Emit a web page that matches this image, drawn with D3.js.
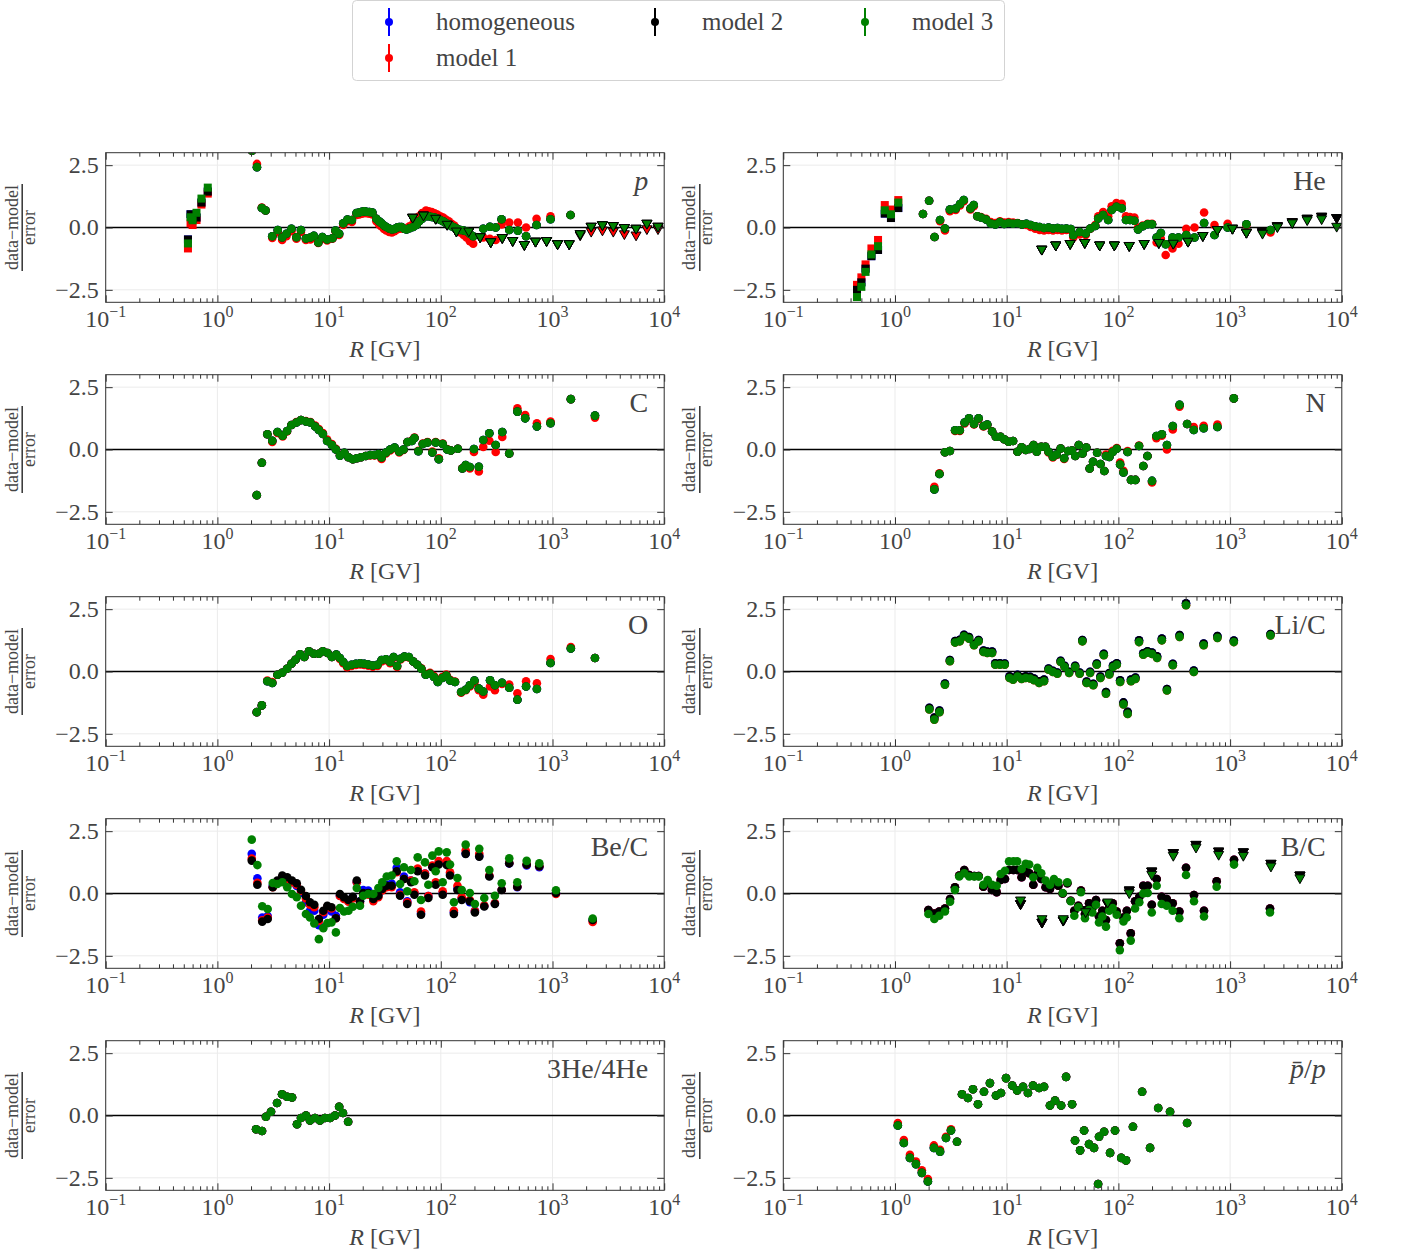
<!DOCTYPE html>
<html>
<head>
<meta charset="utf-8">
<script src="https://cdn.jsdelivr.net/npm/d3@7"></script>
<style>
body{margin:0;background:#fff}
text{font-family:"Liberation Serif","DejaVu Serif",serif;fill:#444}
</style>
</head>
<body>
<svg id="fig" width="1401" height="1254"></svg>
<script>
// ---- p ----
var pSqR  = [0.545, 0.575, 0.60, 0.65, 0.72, 0.82];
var pSqM3 = [-0.64, 0.41, 0.29, 0.59, 1.16, 1.60];
var pSqM2 = [-0.48, 0.53, 0.35, 0.40, 1.00, 1.44];
var pSqM1 = [-0.84, 0.17, 0.10, 0.30, 0.92, 1.36];
var pCiR  = [2.04,2.26,2.5,2.7,3.1,3.47,3.8,4.15,4.6,5.1,5.6,6.2,6.8,7.3,8.0,8.7,9.6,10.7,11.4,12.3,13.4,14.6,16.0,17.6,18.6,19.7,20.6,21.5,22.9,24.4,26.5,28.0,29.3,31.0,32.5,34.5,36.5,38.5,40.6,42.5,44.5,47.0,49.3,52.5,56.5,60.5,64,68,73.7,78,83,88,93,99,105,111,118,125,132,140,150,160,170,182,195,240,275,310,350,410,490,580,720,960,1450];
var pCiM3 = [3.08,2.42,0.78,0.68,-0.35,-0.10,-0.40,-0.25,-0.05,-0.39,-0.10,-0.44,-0.40,-0.33,-0.60,-0.38,-0.48,-0.43,-0.12,-0.25,0.17,0.32,0.30,0.58,0.60,0.63,0.65,0.63,0.62,0.60,0.35,0.25,0.18,0.08,0.02,-0.04,-0.08,-0.06,0.00,0.02,0.02,-0.05,-0.08,-0.03,0.02,0.10,0.25,0.35,0.45,0.45,0.42,0.40,0.35,0.30,0.25,0.18,0.12,0.05,0.00,-0.05,-0.10,-0.12,-0.15,-0.25,-0.35,-0.05,0.03,0.00,0.33,-0.10,-0.13,-0.35,0.10,0.33,0.50];
var pCiM1 = [3.08,2.55,0.80,0.68,-0.42,-0.20,-0.50,-0.35,-0.15,-0.45,-0.18,-0.50,-0.48,-0.40,-0.62,-0.45,-0.52,-0.45,-0.15,-0.30,0.10,0.25,0.22,0.50,0.52,0.55,0.58,0.57,0.55,0.52,0.25,0.12,0.05,-0.06,-0.12,-0.18,-0.20,-0.15,-0.08,-0.05,-0.04,-0.05,-0.05,0.05,0.15,0.30,0.45,0.58,0.68,0.65,0.62,0.57,0.52,0.45,0.40,0.32,0.25,0.15,0.08,-0.05,-0.20,-0.30,-0.40,-0.55,-0.65,-0.40,-0.45,-0.50,0.12,0.20,0.20,0.00,0.35,0.45,0.50];
var pTrR  = [56,70,90,114,138,178,225,280,355,440,560,705,885,1110,1410,1770,2220,2800,3500,4400,5600,7000,8800];
var pTrM3 = [0.36,0.45,0.32,0.08,-0.19,-0.19,-0.42,-0.62,-0.45,-0.57,-0.73,-0.60,-0.57,-0.70,-0.70,-0.30,0.00,0.06,0.03,-0.05,-0.08,0.12,0.00];
var pTrM1 = [0.36,0.45,0.32,0.08,-0.19,-0.19,-0.42,-0.62,-0.45,-0.57,-0.73,-0.60,-0.57,-0.70,-0.70,-0.35,-0.20,-0.15,-0.20,-0.30,-0.35,-0.10,-0.10];

// ---- He ----
var heSqR  = [0.457, 0.50, 0.545, 0.615, 0.705, 0.81, 0.92, 1.07];
var heSqM3 = [-2.79, -2.38, -1.78, -1.08, -0.75, 0.69, 0.53, 1.00];
var heSqM2 = [-2.50, -2.20, -1.65, -1.15, -0.90, 0.56, 0.38, 0.78];
var heSqM1 = [-2.30, -2.00, -1.48, -0.84, -0.50, 0.90, 0.72, 1.10];
var heCiR  = [1.78,2.02,2.26,2.53,2.8,3.1,3.49,3.82,4.13,4.74,5.07,5.46,5.89,6.53,7.2,7.9,8.7,9.5,10.4,11.4,12.5,13.7,15.0,16.4,18.0,19.7,21.6,23.7,26.0,28.5,31.2,34.2,37.5,39.5,45,51,56,62,66,73,81,87,96,107,117,127,139,150,165,183,200,220,240,265,305,345,405,480,585,725,950,1400,2300];
var heCiM3 = [0.54,1.07,-0.38,0.30,-0.04,0.72,0.76,0.94,1.10,0.76,0.90,0.45,0.40,0.32,0.16,0.12,0.22,0.14,0.18,0.15,0.17,0.12,0.15,0.10,0.05,0.02,-0.02,0.00,-0.04,-0.02,-0.05,-0.04,-0.06,-0.31,-0.18,-0.24,-0.04,0.06,0.36,0.50,0.30,0.70,0.83,0.77,0.30,0.30,0.27,-0.08,0.05,0.13,0.13,-0.40,-0.22,-0.67,-0.40,-0.40,-0.30,-0.40,0.18,-0.30,0.00,0.13,-0.10];
var heCiM1 = [0.54,1.07,-0.38,0.25,-0.12,0.65,0.70,0.88,1.05,0.72,0.85,0.45,0.42,0.35,0.22,0.18,0.25,0.20,0.22,0.20,0.18,0.12,0.10,0.02,-0.05,-0.10,-0.12,-0.10,-0.12,-0.10,-0.12,-0.10,-0.10,-0.40,-0.28,-0.30,-0.05,0.10,0.45,0.62,0.45,0.85,0.98,0.95,0.45,0.42,0.40,0.00,0.08,0.15,0.15,-0.60,-0.45,-1.10,-0.84,-0.65,-0.05,0.00,0.60,0.10,0.15,0.10,-0.20];
var heTrR  = [20.6,27.5,37,50,68,92,125,170,230,310,420,570,770,1050,1400,1950,2650,3600,4900,6600,9000];
var heTrM3 = [-0.92,-0.75,-0.69,-0.65,-0.75,-0.75,-0.77,-0.69,-0.65,-0.68,-0.60,-0.37,-0.13,-0.08,-0.24,-0.28,-0.02,0.14,0.26,0.30,0.00];
var heTrM1 = [-0.92,-0.75,-0.69,-0.65,-0.75,-0.75,-0.77,-0.69,-0.65,-0.68,-0.60,-0.37,-0.13,-0.08,-0.24,-0.22,0.02,0.18,0.32,0.40,0.35];

// ---- C ----
var cR  = [2.25,2.5,2.8,3.1,3.45,3.84,4.2,4.6,5.1,5.6,6.2,6.8,7.5,8.1,8.8,9.6,10.6,11.5,12.5,13.7,14.9,16.3,17.7,19.3,21.3,23.3,25.5,27.6,29.5,32.3,35.2,38.6,42.5,46.4,50.3,55.1,58.1,63,69,76,84,90,96,104,114,123,142,156,167,182,198,219,240,272,310,355,410,485,570,725,960,1460,2400];
var cM3 = [-1.83,-0.53,0.61,0.35,0.70,0.55,0.74,0.98,1.08,1.18,1.12,1.08,0.92,0.78,0.62,0.34,0.18,0.00,-0.25,-0.13,-0.31,-0.39,-0.35,-0.31,-0.26,-0.22,-0.22,-0.18,-0.32,-0.12,0.00,0.08,-0.09,0.00,0.30,0.34,0.46,-0.07,0.22,0.28,-0.12,0.28,-0.39,0.22,0.00,-0.04,0.03,-0.76,-0.62,-0.70,0.02,-0.69,0.38,0.65,0.18,0.70,-0.16,1.52,1.25,0.92,1.05,2.02,1.36];
var cM1 = [-1.83,-0.53,0.61,0.30,0.66,0.52,0.72,0.98,1.10,1.18,1.14,1.10,0.96,0.82,0.66,0.40,0.22,0.03,-0.22,-0.14,-0.31,-0.39,-0.35,-0.31,-0.26,-0.24,-0.24,-0.22,-0.38,-0.16,-0.04,0.05,-0.12,-0.02,0.30,0.36,0.48,-0.05,0.24,0.30,-0.08,0.30,-0.35,0.24,0.02,-0.04,0.03,-0.75,-0.65,-0.76,-0.10,-0.88,0.10,0.35,-0.10,0.50,-0.16,1.65,1.38,1.05,1.12,2.02,1.28];

// ---- N ----
var nR  = [2.25,2.5,2.8,3.1,3.45,3.8,4.2,4.6,5.1,5.6,6.2,6.7,7.4,8.0,8.8,9.5,10.4,11.4,12.5,13.6,14.8,16.0,17.4,18.6,20.4,22.2,23.7,25.9,27.9,30.4,32.7,35.5,38.4,41.1,44.2,47.7,51.6,55.3,59.3,64.5,69.1,74.8,77.4,83,88.9,96.7,103.6,111,120.8,129.6,142,153,167,182,200,219,245,272,307,353,412,473,580,770,1080];
var nM3 = [-1.60,-0.98,-0.11,-0.06,0.77,0.77,1.08,1.25,1.02,1.25,0.94,1.00,0.72,0.51,0.51,0.41,0.31,0.34,-0.09,0.09,-0.02,0.02,0.18,-0.09,0.11,0.11,-0.09,-0.29,-0.20,0.04,-0.35,-0.06,-0.04,-0.26,0.18,-0.16,0.08,-0.76,-0.49,-0.13,-0.58,-0.86,-0.26,-0.30,-0.10,0.03,-0.60,-0.92,-0.10,-1.22,-1.22,0.14,-0.66,-0.26,-1.26,0.54,0.61,0.18,0.94,1.79,1.02,0.78,0.85,0.90,2.05];
var nM1 = [-1.50,-0.95,-0.11,-0.06,0.74,0.74,1.04,1.22,1.00,1.22,0.92,0.98,0.72,0.51,0.51,0.41,0.31,0.34,-0.09,0.09,-0.02,0.02,0.18,-0.09,0.11,0.11,-0.12,-0.32,-0.22,0.04,-0.38,-0.06,-0.04,-0.26,0.18,-0.16,0.08,-0.76,-0.49,-0.13,-0.58,-0.86,-0.20,-0.26,-0.05,0.06,-0.52,-0.85,-0.06,-1.22,-1.22,0.16,-0.66,-0.26,-1.32,0.45,0.55,0.00,0.80,1.72,1.02,0.90,0.95,1.00,2.05];

// ---- O ----
var oR  = [2.25,2.5,2.8,3.1,3.45,3.8,4.2,4.6,5.0,5.5,6.0,6.6,7.3,8.1,8.8,9.7,10.6,11.6,12.5,13.4,14.5,15.9,17.4,19.0,20.6,22.4,24.6,27.1,29.5,32.3,35.2,37.8,40.6,43.6,47.3,51.8,56.7,61.6,66.9,73.3,80,86.9,94,103,112,121,134,152,167,182,200,219,240,276,305,353,410,485,580,725,960,1460,2400];
var oM3 = [-1.63,-1.36,-0.39,-0.46,-0.13,-0.05,0.11,0.31,0.47,0.69,0.58,0.81,0.71,0.71,0.81,0.74,0.58,0.68,0.54,0.38,0.22,0.27,0.31,0.33,0.31,0.28,0.24,0.27,0.46,0.49,0.38,0.58,0.22,0.51,0.60,0.58,0.40,0.27,0.11,-0.13,-0.09,-0.22,-0.42,-0.26,-0.16,-0.36,-0.42,-0.82,-0.73,-0.55,-0.36,-0.68,-0.80,-0.35,-0.55,-0.45,-0.65,-1.13,-0.60,-0.70,0.34,0.92,0.54];
var oM1 = [-1.63,-1.36,-0.36,-0.42,-0.13,-0.05,0.11,0.31,0.47,0.69,0.58,0.81,0.71,0.71,0.81,0.74,0.58,0.66,0.50,0.33,0.17,0.22,0.26,0.28,0.26,0.23,0.19,0.22,0.40,0.45,0.33,0.55,0.18,0.48,0.58,0.56,0.40,0.27,0.13,-0.10,-0.05,-0.18,-0.38,-0.22,-0.12,-0.33,-0.40,-0.85,-0.75,-0.60,-0.45,-0.75,-0.93,-0.60,-0.75,-0.50,-0.52,-0.87,-0.39,-0.47,0.50,0.98,0.54];

// ---- Li/C ----
var liR  = [2.03,2.25,2.5,2.8,3.1,3.45,3.8,4.15,4.6,5.1,5.6,6.2,6.7,7.4,7.9,8.7,9.6,10.6,11.4,12.5,13.6,14.8,16.2,17.6,19.5,21.6,23.7,25.9,28.4,30.4,33,36.2,41,45,47.6,51.9,55.8,59.6,64,69,74,77.4,83,89.5,96.7,103.6,111,121,129.6,142,153,167,182,200,222,245,272,307,353,403,473,580,770,1080,2300];
var liM3 = [-1.52,-1.93,-1.63,-0.53,0.41,1.16,1.21,1.41,1.32,1.05,1.21,0.78,0.74,0.74,0.27,0.27,0.27,-0.26,-0.33,-0.20,-0.30,-0.26,-0.28,-0.35,-0.46,-0.39,0.07,-0.02,-0.09,0.38,0.18,-0.06,0.18,-0.09,1.21,-0.46,-0.06,-0.55,0.27,-0.26,0.65,-0.89,-0.12,0.18,0.27,-0.42,-1.32,-1.70,-0.39,-0.30,1.18,0.67,0.75,0.70,0.54,1.25,-0.76,0.25,1.39,2.66,-0.02,1.05,1.35,1.18,1.45];
var liM2 = [-1.46,-1.85,-1.57,-0.48,0.46,1.22,1.27,1.47,1.38,1.11,1.26,0.84,0.80,0.80,0.33,0.33,0.32,-0.19,-0.26,-0.13,-0.23,-0.19,-0.21,-0.28,-0.39,-0.32,0.12,0.03,-0.04,0.43,0.23,-0.01,0.23,-0.04,1.26,-0.40,-0.01,-0.49,0.32,-0.20,0.71,-0.82,-0.06,0.24,0.33,-0.35,-1.24,-1.62,-0.32,-0.24,1.25,0.73,0.81,0.76,0.61,1.32,-0.70,0.31,1.46,2.74,0.04,1.12,1.42,1.24,1.50];

// ---- Be/C ----
var beR   = [2.03,2.28,2.52,2.82,3.13,3.44,3.81,4.22,4.65,5.13,5.6,6.2,6.74,7.37,8.1,8.88,9.64,10.5,11.5,12.5,13.6,14.9,16.3,17.7,18.9,20.2,22.4,24.9,27.6,29.9,32.8,36.3,40.3,43.2,46.8,50.1,54.1,58,62.1,66.5,72.2,77.3,84,90,95.7,104,113,121,131,141,154,167,182,202,221,245,272,305,351,410,484,587,762,1074,2290];
var beM3  = [2.16,1.14,-0.51,-0.62,0.42,0.38,0.45,0.25,-0.02,-0.15,-0.49,-0.82,-0.96,-1.20,-1.83,-1.39,-1.19,-1.16,-1.56,-0.58,-0.72,-0.69,-0.53,0.22,-0.49,-0.09,-0.02,-0.02,0.22,0.45,0.68,0.72,1.29,0.38,1.05,0.09,0.94,0.49,1.45,-0.26,1.25,0.35,1.52,0.89,1.69,0.45,1.65,1.16,-0.35,0.62,0.14,1.96,0.02,-0.42,1.79,-0.18,0.94,-0.09,0.41,1.41,0.45,1.31,1.21,0.13,-1.00];
var beM2  = [1.32,0.35,-1.13,-1.02,0.25,0.52,0.72,0.65,0.52,0.41,0.15,-0.10,-0.35,-0.45,-1.02,-0.69,-0.49,-0.55,-0.99,-0.02,-0.15,-0.26,-0.13,0.52,-0.31,0.02,0.02,-0.22,-0.09,0.18,0.31,0.31,0.89,-0.09,0.58,-0.42,0.45,-0.05,0.89,-0.85,0.72,-0.18,1.05,0.35,1.16,-0.05,1.14,0.72,-0.82,0.14,-0.26,1.59,-0.31,-0.76,1.48,-0.52,0.68,-0.42,0.14,1.21,0.27,1.16,1.09,0.02,-1.06];
var beHom = [1.59,0.61,-0.96,-0.90,0.31,0.45,0.62,0.55,0.45,0.30,0.02,-0.35,-0.69,-0.69,-1.27,-0.85,-0.62,-0.72,-0.89,-0.09,-0.20,-0.30,-0.15,0.45,-0.31,0.14,0.12,-0.15,-0.05,0.22,0.35,0.40,1.03,0.05,0.68,-0.31,0.52,0.02,0.95,-0.80,0.80,-0.10,1.10,0.42,1.22,0.02,1.20,0.78,-0.75,0.20,-0.20,1.60,-0.35,-0.69,1.50,-0.50,0.70,-0.40,0.15,1.20,0.25,1.12,1.05,0.00,-1.06];
var beM1  = [1.40,0.43,-1.07,-0.96,0.25,0.42,0.62,0.58,0.45,0.35,0.10,-0.20,-0.45,-0.55,-1.10,-0.75,-0.55,-0.60,-0.99,-0.10,-0.22,-0.33,-0.20,0.45,-0.38,-0.05,-0.05,-0.31,-0.15,0.12,0.25,0.25,0.85,-0.05,0.58,-0.35,0.52,0.05,1.00,-0.72,0.80,-0.10,1.12,0.45,1.30,0.09,1.30,0.85,-0.69,0.31,-0.15,1.72,-0.26,-0.70,1.59,-0.48,0.72,-0.38,0.15,1.22,0.27,1.16,1.09,-0.02,-1.14];

// ---- B/C ----
var bcR  = [1.99,2.25,2.49,2.8,3.11,3.44,3.76,4.17,4.62,5.13,5.61,6.18,6.76,7.38,8.13,8.83,9.65,10.5,11.5,12.4,13.6,14.8,15.9,17.3,18.8,20.4,22.3,24.4,26.5,29,31.7,34.9,37.4,40.3,43.8,46.2,50.2,54.6,58.4,63,67,71.8,77.4,82.8,88.9,96.5,103,111,119,129,141,154,167,183,199,220,244,271,306,351,403,475,584,758,1084,2275];
var bcM3 = [-0.82,-1.02,-0.89,-0.72,-0.33,0.14,0.68,0.81,0.68,0.68,0.68,0.35,0.54,0.35,0.31,0.78,0.91,1.29,1.29,1.29,0.98,1.19,1.16,0.65,1.03,0.81,0.52,0.35,0.58,0.45,0.02,0.45,-0.31,-0.89,-0.55,0.05,-0.99,-0.66,-0.76,-0.45,-1.16,-0.92,-1.33,-0.69,-0.58,-0.85,-2.27,-1.12,-0.96,-1.89,-0.60,-0.35,0.00,0.02,-0.76,0.31,-0.42,-0.49,-0.69,-0.99,0.74,-0.31,-0.92,0.27,1.16,-0.76];
var bcM2 = [-0.66,-0.80,-0.72,-0.60,-0.22,0.25,0.72,0.94,0.74,0.70,0.70,0.27,0.41,0.14,0.05,0.54,0.58,0.94,0.94,0.94,0.65,0.89,0.81,0.35,0.78,0.58,0.25,0.18,0.38,0.31,0.00,0.41,-0.29,-0.69,-0.49,0.12,-0.82,-0.39,-0.58,-0.26,-0.92,-0.69,-1.06,-0.58,-0.39,-0.72,-2.00,-0.96,-0.69,-1.60,-0.31,-0.13,0.31,0.31,-0.45,0.58,-0.13,-0.22,-0.39,-0.72,1.03,-0.06,-0.69,0.49,1.35,-0.60];
var bcTrR  = [13.3,20.7,32.1,50.9,80.2,125,199,310,495,790,1313,2320,4220];
var bcTrM3 = [-0.31,-1.06,-1.06,-0.78,-0.39,-0.02,0.72,1.48,1.81,1.52,1.48,1.05,0.58];
var bcTrM2 = [-0.46,-1.20,-1.12,-0.69,-0.45,0.09,0.85,1.59,1.92,1.65,1.62,1.16,0.69];

// ---- 3He/4He ----
var h3R  = [2.22,2.51,2.72,3.02,3.42,3.79,4.2,4.66,5.16,5.6,6.21,6.74,7.48,8.28,9.18,10.2,11.3,12.3,13.3,14.8];
var h3M3 = [-0.55,-0.62,-0.05,0.15,0.50,0.85,0.75,0.72,-0.35,-0.10,0.00,-0.20,-0.10,-0.20,-0.10,-0.10,0.00,0.35,0.10,-0.25];

// ---- pbar/p ----
var pbR  = [1.06,1.2,1.36,1.54,1.74,1.97,2.23,2.53,2.86,3.17,3.59,3.98,4.5,4.99,5.53,6.26,7.08,8.02,8.89,9.86,11.2,12.4,14.0,15.5,17.2,19.5,21.6,24.4,27.1,30.7,34.0,38.5,40.9,45.4,49.3,54.6,60.5,65.8,67.1,74.5,84.2,93.3,106,117,135,163,192,227,290,412];
var pbM3 = [-0.40,-1.10,-1.70,-1.95,-2.30,-2.65,-1.30,-1.45,-0.90,-0.60,-1.05,0.85,0.70,1.05,0.45,0.95,1.30,0.80,0.90,1.50,1.20,1.00,1.15,0.90,1.20,1.10,1.15,0.40,0.60,0.40,1.55,0.45,-1.00,-1.40,-0.60,-1.15,-1.30,-2.75,-0.85,-0.65,-1.50,-0.60,-1.70,-1.80,-0.45,0.95,-1.30,0.30,0.15,-0.30];
var pbM1 = [-0.30,-0.98,-1.58,-1.85,-2.20,-2.55,-1.20,-1.38,-0.85,-0.55,-1.05,0.85,0.70,1.05,0.45,0.95,1.30,0.80,0.90,1.50,1.20,1.00,1.15,0.90,1.20,1.10,1.15,0.40,0.60,0.40,1.55,0.45,-1.00,-1.40,-0.60,-1.15,-1.30,-2.75,-0.85,-0.65,-1.50,-0.60,-1.70,-1.80,-0.45,0.95,-1.30,0.30,0.15,-0.30];

var modelNames = ["homogeneous", "model 1", "model 2", "model 3"];
var modelKeys = ["hom", "m1", "m2", "m3"];
var modelColors = ["#0000ff", "#ff0000", "#000000", "#008000"];
var decades = [0.1, 1, 10, 100, 1000, 10000];
var decadeExp = ["\u22121", "0", "1", "2", "3", "4"];
var yTicks = [-2.5, 0, 2.5];
var yTickText = ["\u22122.5", "0.0", "2.5"];

// panel list, built from the arrays above
var panels = [
  {label:"p", it:true, col:0, row:0, sets:[
    {mk:"s", R:pSqR, hom:pSqM2, m1:pSqM1, m2:pSqM2, m3:pSqM3},
    {mk:"o", R:pCiR, hom:pCiM3, m1:pCiM1, m2:pCiM3, m3:pCiM3},
    {mk:"v", R:pTrR, hom:pTrM3, m1:pTrM1, m2:pTrM3, m3:pTrM3}]},
  {label:"He", col:1, row:0, sets:[
    {mk:"s", R:heSqR, hom:heSqM2, m1:heSqM1, m2:heSqM2, m3:heSqM3},
    {mk:"o", R:heCiR, hom:heCiM3, m1:heCiM1, m2:heCiM3, m3:heCiM3},
    {mk:"v", R:heTrR, hom:heTrM1, m1:heTrM1, m2:heTrM1, m3:heTrM3}]},
  {label:"C", col:0, row:1, sets:[{mk:"o", R:cR, hom:cM3, m1:cM1, m2:cM3, m3:cM3}]},
  {label:"N", col:1, row:1, sets:[{mk:"o", R:nR, hom:nM3, m1:nM1, m2:nM3, m3:nM3}]},
  {label:"O", col:0, row:2, sets:[{mk:"o", R:oR, hom:oM3, m1:oM1, m2:oM3, m3:oM3}]},
  {label:"Li/C", col:1, row:2, sets:[{mk:"o", R:liR, hom:liM2, m1:liM3, m2:liM2, m3:liM3}]},
  {label:"Be/C", col:0, row:3, sets:[{mk:"o", R:beR, hom:beHom, m1:beM1, m2:beM2, m3:beM3}]},
  {label:"B/C", col:1, row:3, sets:[
    {mk:"o", R:bcR, hom:bcM2, m1:bcM2, m2:bcM2, m3:bcM3},
    {mk:"v", R:bcTrR, hom:bcTrM2, m1:bcTrM2, m2:bcTrM2, m3:bcTrM3}]},
  {label:"3He/4He", col:0, row:4, sets:[{mk:"o", R:h3R, hom:h3M3, m1:h3M3, m2:h3M3, m3:h3M3}]},
  {label:"pbar", col:1, row:4, sets:[{mk:"o", R:pbR, hom:pbM3, m1:pbM1, m2:pbM3, m3:pbM3}]}
];

var svg = d3.select("#fig");
var colX = [105.7, 783.3];
var pw = 558.5, ph = 149.6;
var x = d3.scaleLog().domain([0.1, 10000]).range([0, pw]);
var y = d3.scaleLinear().domain([-3, 3]).range([ph, 0]);

var minors = [];
for (var d = -1; d < 4; d++) for (var k = 2; k < 10; k++) minors.push(k * Math.pow(10, d));

var triPath = "M-5,-4.2L5,-4.2L0,4.6Z";

function styleAxis(sel){
  sel.select(".domain").remove();
  sel.selectAll("line").attr("stroke", "#333").attr("stroke-width", 1);
  sel.selectAll("text").remove();
}

panels.forEach(function(p, i){
  var gx = colX[p.col], gy = 152.7 + 222 * p.row;
  var g = svg.append("g").attr("transform", "translate(" + gx + "," + gy + ")");

  // grid
  g.selectAll(null).data(decades).enter().append("line")
    .attr("x1", function(d){ return x(d); }).attr("x2", function(d){ return x(d); })
    .attr("y1", 0).attr("y2", ph).attr("stroke", "#ebebeb").attr("stroke-width", 1);
  g.selectAll(null).data([-2.5, 2.5]).enter().append("line")
    .attr("x1", 0).attr("x2", pw)
    .attr("y1", function(d){ return y(d); }).attr("y2", function(d){ return y(d); })
    .attr("stroke", "#ebebeb").attr("stroke-width", 1);

  // zero line
  g.append("line").attr("x1", 0).attr("x2", pw).attr("y1", y(0)).attr("y2", y(0))
    .attr("stroke", "#000").attr("stroke-width", 1.3);

  svg.append("clipPath").attr("id", "clip" + i)
    .append("rect").attr("width", pw).attr("height", ph);
  var pg = g.append("g").attr("clip-path", "url(#clip" + i + ")");

  // markers: all models, green last on top
  modelKeys.forEach(function(m, mi){
    p.sets.forEach(function(s){
      var pts = s.R.map(function(r, k){ return [r, s[m][k]]; });
      var sel = pg.selectAll(null).data(pts).enter();
      if (s.mk === "o") {
        sel.append("circle")
          .attr("cx", function(d){ return x(d[0]); })
          .attr("cy", function(d){ return y(d[1]); })
          .attr("r", 4.3).attr("fill", modelColors[mi]);
      } else if (s.mk === "s") {
        sel.append("rect")
          .attr("x", function(d){ return x(d[0]) - 4; })
          .attr("y", function(d){ return y(d[1]) - 4; })
          .attr("width", 8).attr("height", 8).attr("fill", modelColors[mi]);
      } else {
        sel.append("path").attr("d", triPath)
          .attr("transform", function(d){ return "translate(" + x(d[0]) + "," + y(d[1]) + ")"; })
          .attr("fill", modelColors[mi]).attr("stroke", "#000").attr("stroke-width", 1);
      }
    });
  });

  // ticks, pointing inwards
  g.append("g").attr("transform", "translate(0," + ph + ")")
    .call(d3.axisBottom(x).tickValues(decades).tickSizeInner(-7).tickSizeOuter(0)).call(styleAxis);
  g.append("g").attr("transform", "translate(0," + ph + ")")
    .call(d3.axisBottom(x).tickValues(minors).tickSizeInner(-4).tickSizeOuter(0)).call(styleAxis);
  g.append("g")
    .call(d3.axisTop(x).tickValues(decades).tickSizeInner(-7).tickSizeOuter(0)).call(styleAxis);
  g.append("g")
    .call(d3.axisTop(x).tickValues(minors).tickSizeInner(-4).tickSizeOuter(0)).call(styleAxis);
  g.append("g")
    .call(d3.axisLeft(y).tickValues(yTicks).tickSizeInner(-7).tickSizeOuter(0)).call(styleAxis);
  g.append("g").attr("transform", "translate(" + pw + ",0)")
    .call(d3.axisRight(y).tickValues(yTicks).tickSizeInner(-7).tickSizeOuter(0)).call(styleAxis);

  // frame
  g.append("rect").attr("width", pw).attr("height", ph)
    .attr("fill", "none").attr("stroke", "#333").attr("stroke-width", 1);

  // x tick labels 10^n
  decades.forEach(function(d, k){
    var t = g.append("text").attr("x", x(d)).attr("y", ph + 25)
      .attr("text-anchor", "middle").style("font-size", "24px");
    t.append("tspan").text("10");
    t.append("tspan").attr("dy", -10).style("font-size", "16px").text(decadeExp[k]);
  });
  // y tick labels
  yTicks.forEach(function(v, k){
    g.append("text").attr("x", -7).attr("y", y(v) + 8)
      .attr("text-anchor", "end").style("font-size", "24px").text(yTickText[k]);
  });

  // x label
  var xl = g.append("text").attr("x", pw / 2).attr("y", ph + 55)
    .attr("text-anchor", "middle").style("font-size", "24px");
  xl.append("tspan").style("font-style", "italic").text("R");
  xl.append("tspan").text(" [GV]");

  // y label as a fraction
  var yl = g.append("g").attr("transform", "translate(-84," + (ph / 2) + ") rotate(-90)");
  var num = yl.append("text").attr("x", 0).attr("y", -4).attr("text-anchor", "middle")
    .style("font-size", "18px").text("data\u2212model");
  yl.append("text").attr("x", 0).attr("y", 13).attr("text-anchor", "middle")
    .style("font-size", "18px").text("error");
  var nw = num.node().getComputedTextLength();
  yl.append("line").attr("x1", -nw / 2 - 1).attr("x2", nw / 2 + 1).attr("y1", 0.5).attr("y2", 0.5)
    .attr("stroke", "#333").attr("stroke-width", 1.5);

  // panel label
  var lab = g.append("text").attr("x", pw - 16).attr("y", 37)
    .attr("text-anchor", "end").style("font-size", "28px");
  if (p.label === "pbar") {
    lab.append("tspan").style("font-style", "italic").text("p\u0304");
    lab.append("tspan").text("/");
    lab.append("tspan").style("font-style", "italic").text("p");
  } else if (p.it) {
    lab.style("font-style", "italic").text(p.label);
  } else {
    lab.text(p.label);
  }
});

// legend
var lg = svg.append("g");
lg.append("rect").attr("x", 352.5).attr("y", 0.5).attr("width", 652).attr("height", 80)
  .attr("rx", 4).attr("fill", "#fff").attr("stroke", "#d3d3d3").attr("stroke-width", 1);
var legPos = [[389, 22], [389, 58], [655, 22], [865, 22]];
modelNames.forEach(function(name, i){
  var lx = legPos[i][0], ly = legPos[i][1];
  lg.append("line").attr("x1", lx).attr("x2", lx).attr("y1", ly - 14).attr("y2", ly + 14)
    .attr("stroke", modelColors[i]).attr("stroke-width", 2);
  lg.append("circle").attr("cx", lx).attr("cy", ly).attr("r", 4).attr("fill", modelColors[i]);
  lg.append("text").attr("x", lx + 47).attr("y", ly + 8).style("font-size", "25px").text(name);
});
</script>
</body>
</html>
